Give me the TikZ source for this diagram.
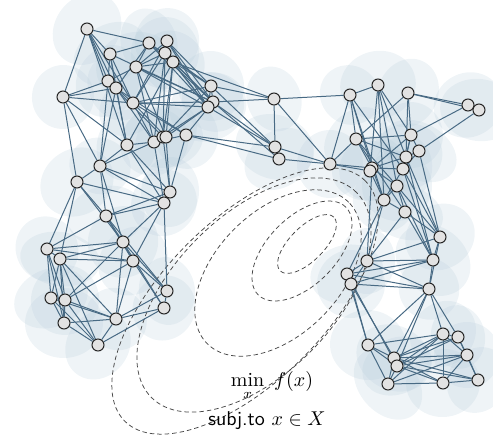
\documentclass[tikz,border=0pt]{standalone}
\usepackage{fontspec}
\usepackage{amsmath}
\pgfdeclarelayer{blobs}
\pgfdeclarelayer{bg}
\pgfsetlayers{blobs,bg,main}
\definecolor{blobc}{RGB}{182,204,218}
\definecolor{edgec}{RGB}{72,106,132}
\definecolor{nodec}{RGB}{226,226,226}
\tikzset{
  vtx/.style={circle, draw=black!85, fill=nodec, line width=1pt, minimum size=12pt, inner sep=0pt},
  edge/.style={draw=edgec, line width=1pt},
  blob/.style={fill=blobc, fill opacity=0.22},
  contour/.style={draw=black!72, line width=0.75pt, dash pattern=on 4.5pt off 3pt},
  lbl/.style={scale=2, inner sep=0pt}
}
\begin{document}
\begin{tikzpicture}[x=1pt, y=-1pt]
\useasboundingbox (0,0) rectangle (493,438);
% nodes and their shaded regions
\foreach \i/\x/\y in {1/87/29, 2/149/43, 3/167/41, 4/110/54, 5/165/53, 6/173/62, 7/136/67,
  8/108/81, 9/116/88, 10/63/97, 11/133/103, 12/211/86, 13/213/102, 14/208/107,
  15/127/145, 16/154/142, 17/163/137, 18/166/137, 19/186/135, 20/100/166, 21/77/182,
  22/170/192, 23/164/203, 24/106/216, 25/123/242, 26/47/249, 27/60/259, 28/133/261,
  29/167/291, 30/164/308, 31/51/298, 32/65/300, 33/116/319, 34/64/323, 35/98/345,
  36/274/99, 37/275/147, 38/279/159, 39/330/164,
  40/350/95, 41/378/85, 42/408/93, 43/468/105, 44/479/110, 45/356/139, 46/411/135,
  47/419/151, 48/406/157, 49/403/169, 50/372/168, 51/370/171, 52/397/186, 53/384/200,
  54/405/212, 55/440/237, 56/367/261, 57/433/260, 58/347/274, 59/351/284, 60/429/289,
  61/368/345, 62/443/334, 63/458/337, 64/394/358, 65/397/366, 66/467/355, 67/388/384,
  68/443/383, 69/478/380} {
  \node[vtx] (n\i) at (\x,\y) {};
  \pgfmathsetmacro\ang{mod(\i*53,180)}
  \pgfmathsetmacro\rx{31+mod(\i*7,10)}
  \pgfmathsetmacro\ry{27+mod(\i*5,9)}
  \begin{pgfonlayer}{blobs}
    \fill[blob, rotate around={\ang:(n\i)}] (n\i) ellipse [x radius=\rx pt, y radius=\ry pt];
  \end{pgfonlayer}
}
% level sets
\begin{pgfonlayer}{bg}
\coordinate (c1) at (307,244);
\coordinate (c2) at (302,251);
\coordinate (c3) at (278,273);
\coordinate (c4) at (254,295);
\coordinate (c5) at (245,301);
\draw[contour, rotate around={45:(c1)}] (c1) ellipse [x radius=38pt, y radius=17pt];
\draw[contour, rotate around={45:(c2)}] (c2) ellipse [x radius=62pt, y radius=34pt];
\draw[contour, rotate around={45:(c3)}] (c3) ellipse [x radius=100pt, y radius=62pt];
\draw[contour, rotate around={45:(c4)}] (c4) ellipse [x radius=145pt, y radius=80pt];
\draw[contour, rotate around={45:(c5)}] (c5) ellipse [x radius=170pt, y radius=81pt];
% edges
\foreach \a/\b in {1/2, 1/10, 1/4, 1/8, 1/9, 1/11, 1/15,
  2/4, 2/7, 2/9, 2/12, 2/13, 2/14,
  3/5, 3/7, 3/11, 3/12, 3/14, 3/13,
  4/8, 4/9, 4/11, 4/13, 4/15,
  5/11, 5/12, 5/13, 5/16, 5/17, 5/7, 5/14,
  6/12, 6/13, 6/14, 6/17, 6/15, 6/7, 6/18, 6/36,
  7/8, 7/13, 7/16, 7/18, 7/14,
  8/9, 8/10, 8/20, 8/17,
  9/11, 9/19, 9/10, 9/15, 9/20, 9/16,
  10/20, 10/21, 10/15, 10/11,
  11/12, 11/13, 11/14, 11/16, 11/18, 11/19,
  12/14, 12/36, 12/37, 12/17, 12/13,
  13/36, 13/37, 13/19, 13/38,
  14/16, 14/18, 14/37,
  15/16, 15/20, 15/22, 15/23,
  16/19, 16/20, 16/23, 16/17,
  17/22, 18/22, 19/37, 19/38, 19/22,
  20/21, 20/22, 20/23, 20/24, 20/25,
  21/24, 21/26, 21/27, 21/23, 21/25,
  22/23, 22/24, 23/24, 23/25, 23/29, 23/28,
  24/25, 24/26, 24/28, 24/29,
  25/26, 25/27, 25/28, 25/29, 25/30, 25/32, 25/33,
  26/27, 26/28, 26/31, 26/32, 26/34,
  27/28, 27/31, 27/32, 27/34, 27/33, 27/35,
  28/32, 28/33, 28/30, 28/29,
  29/30, 29/33, 30/33, 30/35,
  31/32, 31/33, 31/34, 31/35,
  32/33, 32/35, 32/34, 33/34, 33/35, 34/35,
  36/37, 36/39, 36/40, 37/39, 38/39, 37/38,
  39/40, 39/50, 39/51, 39/45,
  40/41, 40/50, 40/49, 40/53, 40/45,
  41/51, 41/53, 41/48, 41/52, 41/46,
  42/46, 42/45, 42/43, 42/44, 42/48,
  43/46, 44/47, 43/44,
  45/46, 45/48, 45/50, 45/52, 45/54,
  46/47, 46/48, 46/50, 46/49,
  47/48, 47/49, 47/55,
  48/49, 48/50, 48/57, 48/55,
  49/50, 49/55, 49/53, 49/57,
  50/52, 50/56, 51/53, 50/53,
  52/53, 52/55, 52/54, 52/57,
  53/54, 53/56, 53/58,
  54/55, 54/56, 54/57,
  55/56, 55/57, 55/60,
  56/57, 56/58, 56/59, 56/60,
  57/58, 57/59, 57/60,
  58/59, 58/60, 59/60, 59/64, 58/65, 59/61, 58/61,
  60/61, 60/64, 60/65, 60/62, 60/63,
  61/62, 61/64, 61/65, 61/67,
  62/63, 62/64, 62/65, 62/66, 62/67, 62/68,
  63/64, 63/65, 63/66, 63/69,
  64/65, 64/66, 64/68, 64/69, 64/67,
  65/66, 65/68, 65/69, 65/67,
  66/67, 66/68, 66/69, 67/68, 68/69} {
  \draw[edge] (n\a) -- (n\b);
}
\end{pgfonlayer}
% problem statement
\node[lbl] (obj) at (272,386) {$\min\limits_{x}\ f(x)$};
\node[lbl] (con) at (267,421) {\textsf{subj.to}\ $x\in X$};
\end{tikzpicture}
\end{document}
